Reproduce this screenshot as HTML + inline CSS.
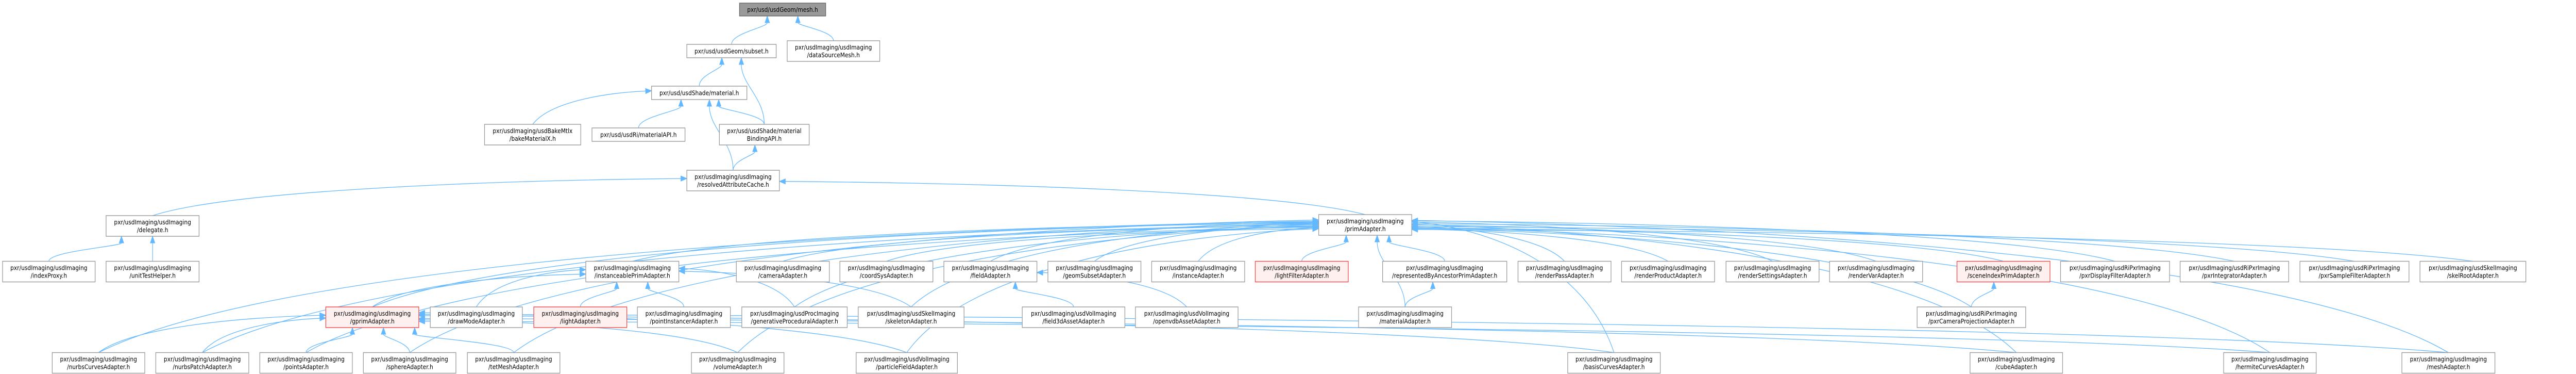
<!DOCTYPE html>
<html><head><meta charset="utf-8"><style>
html,body{margin:0;padding:0;background:#fff;width:100%;height:100%;overflow:hidden;}
svg{display:block;width:100vw;height:100vh}
text{font-family:"DejaVu Sans","Liberation Sans",sans-serif;font-size:12px;fill:#000;text-anchor:middle}
rect{fill:#fff;stroke:#999;stroke-width:1.4}
.r rect{fill:#fff0f0;stroke:#f04848}
.g rect{fill:#999;stroke:#666}
</style></head><body>
<svg id="s" viewBox="0 0 5622 725" preserveAspectRatio="none" xmlns="http://www.w3.org/2000/svg" overflow="hidden">
<g id="edges" fill="none" stroke="#63b8ff" stroke-width="1.3"></g>
<g id="heads" fill="#63b8ff" stroke="#63b8ff"></g>
<g id="nodes">
<g id="mesh" class="g"><rect x="1614" y="6" width="188" height="25"/><text x="1708" y="23">pxr/usd/usdGeom/mesh.h</text></g>
<g id="subset"><rect x="1499" y="86" width="195" height="26"/><text x="1596.5" y="103.5">pxr/usd/usdGeom/subset.h</text></g>
<g id="dsm"><rect x="1718" y="79" width="202" height="40"/><text x="1819" y="96">pxr/usdImaging/usdImaging</text><text x="1819" y="111">/dataSourceMesh.h</text></g>
<g id="material"><rect x="1422" y="167" width="208" height="26"/><text x="1526" y="184.5">pxr/usd/usdShade/material.h</text></g>
<g id="bake"><rect x="1057.5" y="241" width="210" height="40"/><text x="1162.5" y="258">pxr/usdImaging/usdBakeMtlx</text><text x="1162.5" y="273">/bakeMaterialX.h</text></g>
<g id="matapi"><rect x="1292" y="248" width="203" height="26"/><text x="1393.5" y="265.5">pxr/usd/usdRi/materialAPI.h</text></g>
<g id="mba"><rect x="1570" y="241" width="196" height="40"/><text x="1668" y="258">pxr/usd/usdShade/material</text><text x="1668" y="273">BindingAPI.h</text></g>
<g id="rac"><rect x="1499" y="330" width="202" height="40"/><text x="1600" y="347">pxr/usdImaging/usdImaging</text><text x="1600" y="362">/resolvedAttributeCache.h</text></g>
<g id="delegate"><rect x="231.5" y="418" width="203" height="40"/><text x="333" y="435">pxr/usdImaging/usdImaging</text><text x="333" y="450">/delegate.h</text></g>
<g id="prim"><rect x="2878" y="416" width="203" height="40"/><text x="2979.5" y="433">pxr/usdImaging/usdImaging</text><text x="2979.5" y="448">/primAdapter.h</text></g>

<g id="indexProxy"><rect x="5.6" y="506.5" width="202" height="40"/><text x="106.6" y="523.5">pxr/usdImaging/usdImaging</text><text x="106.6" y="538.5">/indexProxy.h</text></g>
<g id="uth"><rect x="231.5" y="506.5" width="203" height="40"/><text x="333" y="523.5">pxr/usdImaging/usdImaging</text><text x="333" y="538.5">/unitTestHelper.h</text></g>
<g id="inst"><rect x="1278.5" y="506.5" width="203" height="40"/><text x="1380" y="523.5">pxr/usdImaging/usdImaging</text><text x="1380" y="538.5">/instanceablePrimAdapter.h</text></g>
<g id="camera"><rect x="1607" y="506.5" width="203" height="40"/><text x="1708.5" y="523.5">pxr/usdImaging/usdImaging</text><text x="1708.5" y="538.5">/cameraAdapter.h</text></g>
<g id="coord"><rect x="1833" y="506.5" width="203" height="40"/><text x="1934.5" y="523.5">pxr/usdImaging/usdImaging</text><text x="1934.5" y="538.5">/coordSysAdapter.h</text></g>
<g id="field"><rect x="2060" y="506.5" width="203" height="40"/><text x="2161.5" y="523.5">pxr/usdImaging/usdImaging</text><text x="2161.5" y="538.5">/fieldAdapter.h</text></g>
<g id="geom"><rect x="2287" y="506.5" width="203" height="40"/><text x="2388.5" y="523.5">pxr/usdImaging/usdImaging</text><text x="2388.5" y="538.5">/geomSubsetAdapter.h</text></g>
<g id="instA"><rect x="2513.5" y="506.5" width="203" height="40"/><text x="2615" y="523.5">pxr/usdImaging/usdImaging</text><text x="2615" y="538.5">/instanceAdapter.h</text></g>
<g id="lightF" class="r"><rect x="2739.5" y="506.5" width="203" height="40"/><text x="2841" y="523.5">pxr/usdImaging/usdImaging</text><text x="2841" y="538.5">/lightFilterAdapter.h</text></g>
<g id="repr"><rect x="3017.5" y="506.5" width="271" height="40"/><text x="3153" y="523.5">pxr/usdImaging/usdImaging</text><text x="3153" y="538.5">/representedByAncestorPrimAdapter.h</text></g>
<g id="rpass"><rect x="3313" y="506.5" width="203" height="40"/><text x="3414.5" y="523.5">pxr/usdImaging/usdImaging</text><text x="3414.5" y="538.5">/renderPassAdapter.h</text></g>
<g id="rprod"><rect x="3539" y="506.5" width="203" height="40"/><text x="3640.5" y="523.5">pxr/usdImaging/usdImaging</text><text x="3640.5" y="538.5">/renderProductAdapter.h</text></g>
<g id="rset"><rect x="3767" y="506.5" width="203" height="40"/><text x="3868.5" y="523.5">pxr/usdImaging/usdImaging</text><text x="3868.5" y="538.5">/renderSettingsAdapter.h</text></g>
<g id="rvar"><rect x="3993" y="506.5" width="203" height="40"/><text x="4094.5" y="523.5">pxr/usdImaging/usdImaging</text><text x="4094.5" y="538.5">/renderVarAdapter.h</text></g>
<g id="scene" class="r"><rect x="4271" y="506.5" width="203" height="40"/><text x="4372.5" y="523.5">pxr/usdImaging/usdImaging</text><text x="4372.5" y="538.5">/sceneIndexPrimAdapter.h</text></g>
<g id="pdf"><rect x="4497" y="506.5" width="238" height="40"/><text x="4616" y="523.5">pxr/usdImaging/usdRiPxrImaging</text><text x="4616" y="538.5">/pxrDisplayFilterAdapter.h</text></g>
<g id="pint"><rect x="4758" y="506.5" width="237" height="40"/><text x="4876.5" y="523.5">pxr/usdImaging/usdRiPxrImaging</text><text x="4876.5" y="538.5">/pxrIntegratorAdapter.h</text></g>
<g id="psf"><rect x="5019.5" y="506.5" width="238" height="40"/><text x="5138.5" y="523.5">pxr/usdImaging/usdRiPxrImaging</text><text x="5138.5" y="538.5">/pxrSampleFilterAdapter.h</text></g>
<g id="skelRoot"><rect x="5281.5" y="506.5" width="231" height="40"/><text x="5397" y="523.5">pxr/usdImaging/usdSkelImaging</text><text x="5397" y="538.5">/skelRootAdapter.h</text></g>

<g id="gprim" class="r"><rect x="711" y="595" width="203" height="40"/><text x="812.5" y="612">pxr/usdImaging/usdImaging</text><text x="812.5" y="627">/gprimAdapter.h</text></g>
<g id="drawMode"><rect x="939" y="595" width="201" height="40"/><text x="1039.5" y="612">pxr/usdImaging/usdImaging</text><text x="1039.5" y="627">/drawModeAdapter.h</text></g>
<g id="light" class="r"><rect x="1165" y="595" width="203" height="40"/><text x="1266.5" y="612">pxr/usdImaging/usdImaging</text><text x="1266.5" y="627">/lightAdapter.h</text></g>
<g id="pinst"><rect x="1391" y="595" width="203" height="40"/><text x="1492.5" y="612">pxr/usdImaging/usdImaging</text><text x="1492.5" y="627">/pointInstancerAdapter.h</text></g>
<g id="gen"><rect x="1619" y="595" width="230" height="40"/><text x="1734" y="612">pxr/usdImaging/usdProcImaging</text><text x="1734" y="627">/generativeProceduralAdapter.h</text></g>
<g id="skel"><rect x="1873" y="595" width="231" height="40"/><text x="1988.5" y="612">pxr/usdImaging/usdSkelImaging</text><text x="1988.5" y="627">/skeletonAdapter.h</text></g>
<g id="f3d"><rect x="2231" y="595" width="224" height="40"/><text x="2343" y="612">pxr/usdImaging/usdVolImaging</text><text x="2343" y="627">/field3dAssetAdapter.h</text></g>
<g id="ovdb"><rect x="2478" y="595" width="224" height="40"/><text x="2590" y="612">pxr/usdImaging/usdVolImaging</text><text x="2590" y="627">/openvdbAssetAdapter.h</text></g>
<g id="matA"><rect x="2965" y="595" width="203" height="40"/><text x="3066.5" y="612">pxr/usdImaging/usdImaging</text><text x="3066.5" y="627">/materialAdapter.h</text></g>
<g id="pcam"><rect x="4184" y="595" width="237" height="40"/><text x="4302.5" y="612">pxr/usdImaging/usdRiPxrImaging</text><text x="4302.5" y="627">/pxrCameraProjectionAdapter.h</text></g>

<g id="nurbsC"><rect x="114" y="683.5" width="202" height="40"/><text x="215" y="700.5">pxr/usdImaging/usdImaging</text><text x="215" y="715.5">/nurbsCurvesAdapter.h</text></g>
<g id="nurbsP"><rect x="340" y="683.5" width="203" height="40"/><text x="441.5" y="700.5">pxr/usdImaging/usdImaging</text><text x="441.5" y="715.5">/nurbsPatchAdapter.h</text></g>
<g id="points"><rect x="567" y="683.5" width="202" height="40"/><text x="668" y="700.5">pxr/usdImaging/usdImaging</text><text x="668" y="715.5">/pointsAdapter.h</text></g>
<g id="sphere"><rect x="793" y="683.5" width="202" height="40"/><text x="894" y="700.5">pxr/usdImaging/usdImaging</text><text x="894" y="715.5">/sphereAdapter.h</text></g>
<g id="tet"><rect x="1020" y="683.5" width="202" height="40"/><text x="1121" y="700.5">pxr/usdImaging/usdImaging</text><text x="1121" y="715.5">/tetMeshAdapter.h</text></g>
<g id="volume"><rect x="1509" y="683.5" width="202" height="40"/><text x="1610" y="700.5">pxr/usdImaging/usdImaging</text><text x="1610" y="715.5">/volumeAdapter.h</text></g>
<g id="particle"><rect x="1868.5" y="683.5" width="221" height="40"/><text x="1979" y="700.5">pxr/usdImaging/usdVolImaging</text><text x="1979" y="715.5">/particleFieldAdapter.h</text></g>
<g id="basis"><rect x="3421.5" y="683.5" width="202" height="40"/><text x="3522.5" y="700.5">pxr/usdImaging/usdImaging</text><text x="3522.5" y="715.5">/basisCurvesAdapter.h</text></g>
<g id="cube"><rect x="4299.5" y="683.5" width="202" height="40"/><text x="4400.5" y="700.5">pxr/usdImaging/usdImaging</text><text x="4400.5" y="715.5">/cubeAdapter.h</text></g>
<g id="hermite"><rect x="4853" y="683.5" width="202" height="40"/><text x="4954" y="700.5">pxr/usdImaging/usdImaging</text><text x="4954" y="715.5">/hermiteCurvesAdapter.h</text></g>
<g id="meshA"><rect x="5242" y="683.5" width="203" height="40"/><text x="5343.5" y="700.5">pxr/usdImaging/usdImaging</text><text x="5343.5" y="715.5">/meshAdapter.h</text></g>
</g>
</svg>
<script>
(function(){
var NS="http://www.w3.org/2000/svg";
function box(id){var r=document.querySelector('#'+id+' rect');return {x:+r.getAttribute('x'),y:+r.getAttribute('y'),w:+r.getAttribute('width'),h:+r.getAttribute('height')};}
var E=[["subset","mesh"],["dsm","mesh"],["material","subset"],["mba","subset"],["bake","material"],["matapi","material"],["rac","material"],["mba","material"],["rac","mba"],
["delegate","rac"],["prim","rac"],["indexProxy","delegate"],["uth","delegate"]];
["inst","camera","coord","field","geom","instA","lightF","repr","rpass","rprod","rset","rvar","scene","pdf","pint","psf","skelRoot","gprim","matA","pcam",
"nurbsC","nurbsP","points","sphere","tet","volume","particle","basis","cube","hermite","meshA","skel","gen"].forEach(function(s){E.push([s,"prim"]);});
["drawMode","light","pinst","gen","skel","gprim"].forEach(function(s){E.push([s,"inst"]);});
E.push(["f3d","field"],["ovdb","field"],["matA","repr"],["pcam","scene"]);
["nurbsC","nurbsP","points","sphere","tet","volume","particle","basis","cube","hermite","meshA"].forEach(function(s){E.push([s,"gprim"]);});
var eg=document.getElementById('edges'),hg=document.getElementById('heads');
var cnt={};
function cl(v,a,b){return Math.max(a,Math.min(b,v));}
E.forEach(function(e){
 var s=box(e[0]),t=box(e[1]);
 var scx=s.x+s.w/2,tcx=t.x+t.w/2;
 var sx,sy,tx,ty,c1x,c1y,c2x,c2y;
 var k=(cnt[e[1]]=(cnt[e[1]]||0)+1);
 if(s.y>t.y+t.h){
  sx=scx;sy=s.y;
  if(Math.abs(scx-tcx)<t.w*1.6){
   tx=tcx+(scx-tcx)*0.3;ty=t.y+t.h;
   c1x=sx;c1y=sy-(sy-ty)*0.4;c2x=tx;c2y=ty+(sy-ty)*0.4;
  }else{
   var off=((k*7)%24)-12;
   if(scx<tcx){tx=t.x;}else{tx=t.x+t.w;}
   ty=t.y+t.h/2+off*0.8;
   var dx=(tx-sx);
   c1x=sx+dx*0.15;c1y=sy-(sy-ty)*0.7;
   c2x=tx-dx*0.35;c2y=ty+(sy-ty)*0.05;
  }
 }else{
  if(scx<tcx){sx=s.x+s.w;tx=t.x;}else{sx=s.x;tx=t.x+t.w;}
  sy=s.y+10;ty=t.y+t.h/2+4;
  c1x=sx+(tx-sx)*0.4;c1y=sy;c2x=sx+(tx-sx)*0.6;c2y=ty;
 }
 c1x=cl(c1x,2,5620);c2x=cl(c2x,2,5620);
 var dx2=tx-c2x,dy2=ty-c2y,L=Math.sqrt(dx2*dx2+dy2*dy2)||1;dx2/=L;dy2/=L;
 var al=13,aw=5;
 var bx=tx-dx2*al,by=ty-dy2*al;
 var p=document.createElementNS(NS,'path');
 p.setAttribute('d','M'+sx+','+sy+' C'+c1x+','+c1y+' '+c2x+','+c2y+' '+bx+','+by);
 eg.appendChild(p);
 var h=document.createElementNS(NS,'polygon');
 h.setAttribute('points',tx+','+ty+' '+(bx-dy2*aw)+','+(by+dx2*aw)+' '+(bx+dy2*aw)+','+(by-dx2*aw));
 hg.appendChild(h);
});
})();
</script>
</body></html>
